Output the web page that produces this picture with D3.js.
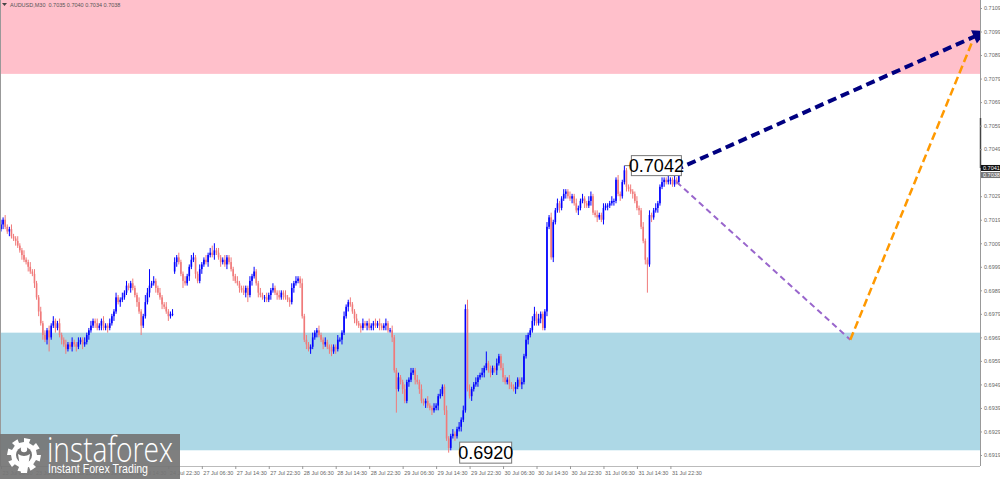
<!DOCTYPE html>
<html>
<head>
<meta charset="utf-8">
<script src="https://cdn.jsdelivr.net/npm/d3@7"></script>
<style>
body { margin: 0; background: #fff; overflow: hidden; }
text { font-family: "Liberation Sans", Arial, sans-serif; }
</style>
</head>
<body>
<div id="viz"></div>
<script>
// AUDUSD M30 closes
const closes = [
  0.7017,0.7019,0.7016,0.7014,0.7015,0.7012,0.7011,0.7010,0.7008,0.7006,
  0.7004,0.7002,0.7001,0.6999,0.6997,0.6996,0.6992,0.6986,0.6980,0.6975,
  0.6970,0.6968,0.6972,0.6969,0.6974,0.6976,0.6973,0.6975,0.6970,0.6968,
  0.6966,0.6964,0.6966,0.6965,0.6967,0.6966,0.6965,0.6967,0.6968,0.6966,
  0.6967,0.6970,0.6972,0.6974,0.6976,0.6975,0.6973,0.6974,0.6976,0.6973,
  0.6974,0.6973,0.6975,0.6978,0.6980,0.6986,0.6984,0.6985,0.6986,0.6988,
  0.6991,0.6990,0.6992,0.6990,0.6987,0.6984,0.6980,0.6974,0.6978,0.6984,
  0.6988,0.6991,0.6992,0.6993,0.6990,0.6988,0.6986,0.6983,0.6982,0.6980,
  0.6978,0.6979,0.6979,0.7001,0.7003,0.7001,0.6996,0.6993,0.6992,0.6995,
  0.6999,0.7002,0.7003,0.6996,0.6993,0.6998,0.7000,0.7002,0.7001,0.7004,
  0.7005,0.7004,0.7006,0.7005,0.7003,0.7001,0.7002,0.7000,0.7003,0.7001,
  0.6998,0.6995,0.6993,0.6992,0.6990,0.6989,0.6988,0.6990,0.6987,0.6993,
  0.6995,0.6997,0.6992,0.6988,0.6987,0.6986,0.6986,0.6985,0.6987,0.6989,
  0.6990,0.6988,0.6987,0.6986,0.6988,0.6987,0.6986,0.6985,0.6984,0.6990,
  0.6992,0.6993,0.6994,0.6992,0.6978,0.6968,0.6966,0.6964,0.6965,0.6969,
  0.6971,0.6972,0.6970,0.6968,0.6966,0.6967,0.6965,0.6964,0.6963,0.6965,
  0.6964,0.6968,0.6968,0.6971,0.6978,0.6982,0.6984,0.6983,0.6980,0.6977,
  0.6975,0.6974,0.6973,0.6975,0.6974,0.6975,0.6973,0.6974,0.6975,0.6974,
  0.6975,0.6974,0.6973,0.6974,0.6975,0.6972,0.6972,0.6969,0.6955,0.6947,
  0.6952,0.6950,0.6947,0.6942,0.6950,0.6951,0.6954,0.6955,0.6951,0.6950,
  0.6947,0.6942,0.6941,0.6942,0.6940,0.6939,0.6938,0.6939,0.6940,0.6944,
  0.6945,0.6948,0.6938,0.6926,0.6922,0.6927,0.6928,0.6927,0.6930,0.6931,
  0.6934,0.6938,0.6981,0.6947,0.6944,0.6947,0.6949,0.6950,0.6952,0.6953,
  0.6954,0.6956,0.6958,0.6955,0.6954,0.6956,0.6955,0.6958,0.6961,0.6956,
  0.6952,0.6950,0.6951,0.6949,0.6948,0.6947,0.6948,0.6951,0.6949,0.6950,
  0.6961,0.6968,0.6970,0.6972,0.6976,0.6979,0.6975,0.6977,0.6979,0.6973,
  0.6980,0.7016,0.7020,0.7003,0.7018,0.7023,0.7026,0.7024,0.7028,0.7030,
  0.7031,0.7029,0.7028,0.7029,0.7026,0.7023,0.7024,0.7027,0.7028,0.7026,
  0.7025,0.7027,0.7029,0.7022,0.7021,0.7020,0.7021,0.7019,0.7024,0.7025,
  0.7025,0.7026,0.7027,0.7027,0.7036,0.7030,0.7029,0.7035,0.7040,0.7033,
  0.7032,0.7031,0.7030,0.7027,0.7024,0.7023,0.7016,0.7010,0.7002,0.7000,
  0.7021,0.7020,0.7023,0.7024,0.7026,0.7033,0.7035,0.7036,0.7035,0.7036,
  0.7036,0.7034,0.7036,0.7035,0.7038
]

// upper / lower wick length of each bar, in pips
const wickUp = [
  2,1,2,1,1,2,1,1,2,1, 1,2,1,1,2,1,2,1,1,2, 1,2,1,2,1,2,1,1,2,1, 1,2,1,1,2,1,1,2,1,1,
  2,1,1,2,1,1,2,1,1,2, 1,1,2,1,1,2,1,1,2,1, 2,1,1,2,1,1,2,1,1,3, 2,7,1,2,1,1,2,1,1,2,
  1,1,2,2,1,2,1,1,2,1, 1,2,2,1,1,2,1,1,2,1, 2,3,3,1,2,1,1,2,1,1, 2,1,1,2,1,1,2,1,1,2,
  1,2,1,1,2,1,1,2,1,1, 2,1,1,2,1,1,2,1,1,2, 1,2,1,1,2,1,2,1,1,2, 1,1,2,1,1,2,1,1,2,1,
  1,2,1,1,2,1,1,2,1,1, 2,1,1,2,1,1,2,1,1,2, 1,2,1,1,2,1,1,2,1,1, 2,1,1,2,1,1,2,1,1,2,
  1,2,1,1,2,1,1,2,1,1, 2,1,1,2,1,1,2,1,1,2, 1,2,2,4,2,1,1,2,1,1, 2,1,5,1,2,1,1,2,1,1,
  2,1,1,2,1,1,2,1,1,2, 1,2,1,1,2,3,1,2,1,1, 1,2,1,2,1,1,2,1,1,2, 1,1,2,1,1,2,1,1,2,1,
  1,2,2,1,1,2,1,1,2,1, 1,1,2,1,1,2,1,1,2,1, 1,2,1,1,2,1,1,2,1,1, 2,1,1,2,1,1,2,1,1,2,
  1,1,2,1,2
]
const wickDn = [
  1,2,1,1,2,1,1,2,1,1, 2,1,1,2,1,1,2,1,2,1, 2,1,2,6,1,1,2,1,1,2, 1,2,1,1,2,1,2,1,1,2,
  1,1,2,1,1,2,1,1,2,1, 1,2,1,1,2,1,1,2,1,1, 1,1,2,1,1,2,1,4,1,1, 1,2,1,1,2,1,1,2,1,1,
  2,1,1,1,2,1,1,3,1,1, 2,1,1,2,1,1,2,1,1,2, 1,1,2,1,1,2,1,1,2,1, 1,2,1,1,2,1,1,2,3,1,
  2,1,1,2,1,1,2,1,1,2, 1,1,2,1,1,2,1,1,2,1, 2,1,1,2,1,1,2,1,2,1, 1,2,1,1,2,1,1,2,2,1,
  2,1,1,2,1,1,2,1,1,2, 1,1,2,1,1,2,1,1,2,1, 1,2,1,1,2,1,1,2,1,10, 1,1,2,1,1,2,1,1,2,1,
  2,1,1,2,1,1,2,1,1,2, 1,1,2,1,2,1,1,2,1,1, 2,1,1,1,1,2,1,1,2,1, 1,2,1,1,2,1,1,2,1,1,
  2,1,1,2,1,1,2,1,1,2, 1,1,2,1,1,2,1,1,2,1, 1,2,1,1,2,1,1,2,1,1, 2,1,1,2,1,1,2,1,1,2,
  1,1,2,1,1,2,1,1,2,1, 2,1,1,2,1,1,2,1,1,2, 1,1,2,1,1,2,1,1,2,12, 1,2,1,1,2,1,1,2,1,1,
  2,1,1,1,1
]
// bars whose open is not the previous close (first bar, Monday gap)
const gapOpens = [[0, 0.7015], [83, 0.6997]]

const priceTicks = [0.7109,0.7099,0.7089,0.7079,0.7069,0.7059,0.7049,0.7029,0.7019,0.7009,
  0.6999,0.6989,0.6979,0.6969,0.6959,0.6949,0.6939,0.6929,0.6919]
const timeTicks = [0,16,32,48,64,80,96,112,128,144,160,176,192,208,224,240,256,272,288,304,320]
const timeLabels = ["23 Jul 06:30","23 Jul 14:30","23 Jul 22:30","24 Jul 06:30","24 Jul 14:30",
  "24 Jul 22:30","27 Jul 06:30","27 Jul 14:30","27 Jul 22:30","28 Jul 06:30","28 Jul 14:30",
  "28 Jul 22:30","29 Jul 06:30","29 Jul 14:30","29 Jul 22:30","30 Jul 06:30","30 Jul 14:30",
  "30 Jul 22:30","31 Jul 06:30","31 Jul 14:30","31 Jul 22:30"]

const sellZone = [0.7081, 0.7115]
const buyZone = [0.6921, 0.6971]
const bullPath = [[322, 0.7040], [467, 0.70975]]
const dipPath = [[323, 0.7035], [406, 0.6968]]
const reboundPath = [[406, 0.6968], [464, 0.7094]]
const peakLabel = [298, 0.7042]
const troughLabel = [214, 0.6920]
const header = "AUDUSD,M30  0.7035 0.7040 0.7034 0.7038"
const bidAsk = [0.7041, 0.7038]

const width = 1000, height = 479
const plotRight = 980, plotBottom = 466

const svg = d3.select("#viz").append("svg")
    .attr("width", width)
    .attr("height", height)

const x = d3.scaleLinear().domain([0, 468]).range([1, plotRight])
const y = d3.scaleLinear().domain([0.6919, 0.7109]).range([455, 8])

svg.append("defs").append("clipPath").attr("id", "plot")
  .append("rect").attr("x", 0).attr("y", 0).attr("width", plotRight).attr("height", plotBottom)

const plot = svg.append("g").attr("clip-path", "url(#plot)")

// zones
plot.append("rect")
    .attr("x", 0).attr("width", plotRight)
    .attr("y", y(sellZone[1])).attr("height", y(sellZone[0]) - y(sellZone[1]))
    .attr("fill", "#ffc0cb")
plot.append("rect")
    .attr("x", 0).attr("width", plotRight)
    .attr("y", y(buyZone[1])).attr("height", y(buyZone[0]) - y(buyZone[1]))
    .attr("fill", "#add8e6")

// build OHLC
const gap = new Map(gapOpens)
const bars = closes.map(function(c, i) {
    const o = gap.has(i) ? gap.get(i) : closes[i - 1]
    return {
        i: i, o: o, c: c,
        h: Math.max(o, c) + wickUp[i] / 10000,
        l: Math.min(o, c) - wickDn[i] / 10000
    }
})

const bull = "#0000ff", bear = "#f07a7a"
const candles = plot.append("g").selectAll("g")
    .data(bars)
    .enter().append("g")
candles.append("line")
    .attr("x1", d => x(d.i)).attr("x2", d => x(d.i))
    .attr("y1", d => y(d.h)).attr("y2", d => y(d.l))
    .attr("stroke", d => d.c >= d.o ? bull : bear)
    .attr("stroke-width", 1)
candles.append("rect")
    .attr("x", d => x(d.i) - 0.8)
    .attr("width", 1.6)
    .attr("y", d => y(Math.max(d.o, d.c)))
    .attr("height", d => Math.max(1, Math.abs(y(d.o) - y(d.c))))
    .attr("fill", d => d.c >= d.o ? bull : bear)

// forecast lines
const line = d3.line().x(d => x(d[0])).y(d => y(d[1]))
svg.append("defs").append("marker")
    .attr("id", "head")
    .attr("viewBox", "0 0 10 10")
    .attr("refX", 3).attr("refY", 5)
    .attr("markerWidth", 4.4).attr("markerHeight", 3.6)
    .attr("orient", "auto")
  .append("path").attr("d", "M0,0 L10,5 L0,10 Z").attr("fill", "#000080")

plot.append("path").datum(dipPath).attr("d", line)
    .attr("fill", "none").attr("stroke", "#9966cc").attr("stroke-width", 2).attr("stroke-dasharray", "6,4")
plot.append("path").datum(reboundPath).attr("d", line)
    .attr("fill", "none").attr("stroke", "#ff9900").attr("stroke-width", 2.5).attr("stroke-dasharray", "8,4")
plot.append("path").datum(bullPath).attr("d", line)
    .attr("fill", "none").attr("stroke", "#000080").attr("stroke-width", 4).attr("stroke-dasharray", "9,5")
    .attr("marker-end", "url(#head)")

// price labels
function priceBox(pt, dx, w, h) {
    const bx = x(pt[0]) + dx, cy = y(pt[1])
    const g = svg.append("g")
    g.append("rect").attr("x", bx).attr("y", cy - h / 2).attr("width", w).attr("height", h)
        .attr("fill", "#fff").attr("stroke", "#777").attr("stroke-width", 1)
    g.append("text").attr("x", bx + w / 2).attr("y", cy + 6.5)
        .attr("text-anchor", "middle").attr("font-size", 18).attr("fill", "#000")
        .text(d3.format(".4f")(pt[1]))
    return g
}
svg.append("line").attr("x1", x(peakLabel[0])).attr("x2", x(peakLabel[0]) + 7)
    .attr("y1", y(peakLabel[1])).attr("y2", y(peakLabel[1])).attr("stroke", "#777")
priceBox(peakLabel, 7, 50, 20)
priceBox(troughLabel, 11, 52, 21)

// frame
svg.append("line").attr("x1", plotRight + 0.5).attr("x2", plotRight + 0.5)
    .attr("y1", 0).attr("y2", plotBottom).attr("stroke", "#999")
svg.append("line").attr("x1", 0).attr("x2", plotRight)
    .attr("y1", plotBottom + 0.5).attr("y2", plotBottom + 0.5).attr("stroke", "#bbb")
svg.append("line").attr("x1", 0.5).attr("x2", 0.5)
    .attr("y1", 0).attr("y2", plotBottom).attr("stroke", "#999")
svg.append("line").attr("x1", plotRight + 0.5).attr("x2", plotRight + 0.5)
    .attr("y1", 118).attr("y2", y(bidAsk[0])).attr("stroke", "#444").attr("stroke-width", 1.5)

// right axis
const yAxis = svg.append("g")
    .attr("transform", "translate(" + plotRight + ",0)")
    .call(d3.axisRight(y).tickValues(priceTicks).tickFormat(d3.format(".4f")).tickSize(2).tickPadding(2))
yAxis.select(".domain").remove()
yAxis.selectAll("line").attr("stroke", "#999")
yAxis.selectAll("text").attr("font-size", 5.5).attr("fill", "#666")
    .style("font-family", "'Liberation Sans', Arial, sans-serif")

// bid / ask tags
bidAsk.forEach(function(p, k) {
    svg.append("rect").attr("x", plotRight + 1).attr("y", y(p) - 3).attr("width", 19).attr("height", 6)
        .attr("fill", k === 0 ? "#111" : "#777")
    svg.append("text").attr("x", plotRight + 3).attr("y", y(p) + 2)
        .attr("font-size", 5.5).attr("fill", "#fff").text(d3.format(".4f")(p))
})

// bottom axis
const xAxis = svg.append("g")
    .attr("transform", "translate(0," + plotBottom + ")")
    .call(d3.axisBottom(x).tickValues(timeTicks).tickFormat((d, i) => timeLabels[i]).tickSize(3).tickPadding(2))
xAxis.select(".domain").remove()
xAxis.selectAll("line").attr("stroke", "#999")
xAxis.selectAll("text").attr("font-size", 5.5).attr("fill", "#666")
    .attr("text-anchor", "start").attr("dx", 1)
    .style("font-family", "'Liberation Sans', Arial, sans-serif")

// header
svg.append("path").attr("d", "M2,3 L7,3 L4.5,6 Z").attr("fill", "#444")
svg.append("text").attr("x", 10).attr("y", 7).attr("font-size", 5.5).attr("fill", "#555")
    .attr("xml:space", "preserve").style("white-space", "pre").text(header)

// logo
const logo = svg.append("g")
logo.append("rect").attr("x", 0).attr("y", 434).attr("width", 180).attr("height", 45)
    .attr("fill", "#757575").attr("opacity", 0.93)
const cx = 24, cy = 455
let gear = ""
const teeth = 8
for (let k = 0; k < teeth * 2; k++) {
    const a0 = (k / (teeth * 2)) * 2 * Math.PI - Math.PI / 2
    const a1 = ((k + 1) / (teeth * 2)) * 2 * Math.PI - Math.PI / 2
    const r = k % 2 === 0 ? 17 : 13
    gear += (k === 0 ? "M" : "L") + (cx + r * Math.cos(a0)) + "," + (cy + r * Math.sin(a0))
    gear += "L" + (cx + r * Math.cos(a1)) + "," + (cy + r * Math.sin(a1))
}
gear += "Z"
logo.append("path").attr("d", gear).attr("fill", "#fff")
logo.append("circle").attr("cx", cx).attr("cy", cy).attr("r", 8).attr("fill", "#757575")
logo.append("circle").attr("cx", cx).attr("cy", cy - 6).attr("r", 3.2).attr("fill", "#fff")
logo.append("path").attr("d", "M" + (cx - 6) + "," + (cy - 1) + " Q" + cx + "," + (cy + 3) + " " + (cx + 6) + "," + (cy - 1)
    + " L" + (cx + 3) + "," + (cy + 18) + " L" + (cx - 3) + "," + (cy + 18) + " Z").attr("fill", "#fff")
logo.append("text").attr("x", 47).attr("y", 462).attr("font-size", 34).attr("fill", "#fff")
    .attr("textLength", 126).attr("lengthAdjust", "spacingAndGlyphs")
    .style("font-family", "'Open Sans', 'DejaVu Sans', sans-serif").style("font-weight", 300)
    .text("instaforex")
logo.append("text").attr("x", 48).attr("y", 473).attr("font-size", 12).attr("fill", "#fff")
    .attr("textLength", 100).attr("lengthAdjust", "spacingAndGlyphs")
    .text("Instant Forex Trading")
</script>
</body>
</html>
